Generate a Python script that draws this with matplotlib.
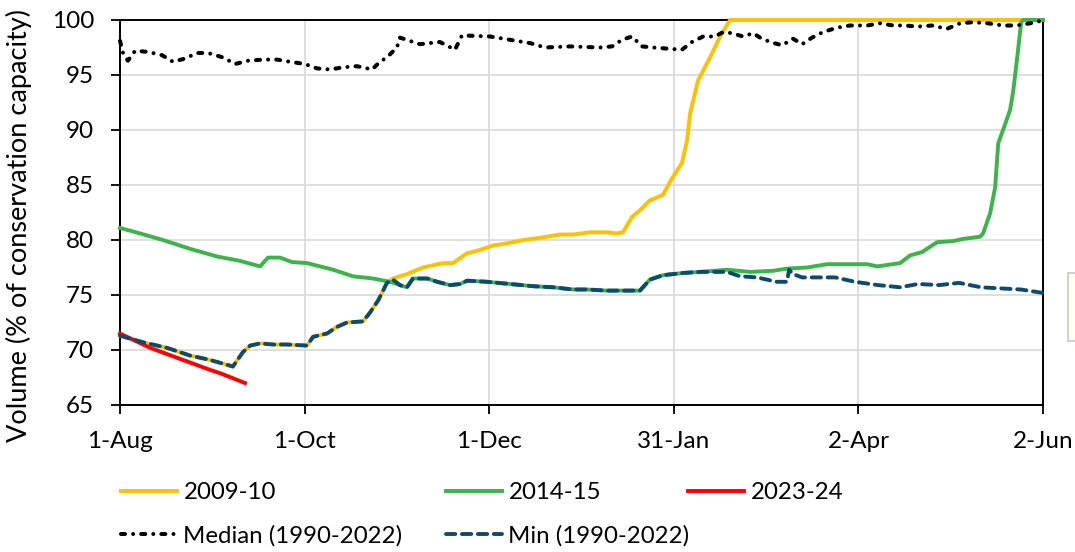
import matplotlib.pyplot as plt
from matplotlib.patches import Rectangle

# Data (x = days since 1-Aug)
tick_days = [0, 61, 122, 183, 244, 305]
tick_labels = ["1-Aug", "1-Oct", "1-Dec", "31-Jan", "2-Apr", "2-Jun"]

median_days = [0, 1, 2.6, 5, 9.3, 13.9, 17.5, 21.5, 25.4, 29.1, 34, 38, 42.3, 47.3, 51.9, 56.2, 61.1, 65.1,
               69.4, 73.7, 78.3, 83.3, 85.9, 88.2, 91.5, 92.5, 99.1, 105.7, 110.7, 113, 122.3, 128.9, 135.5,
               140.5, 148.7, 158.6, 162.6, 165.9, 169.2, 172.5, 176.1, 180.8, 185.7, 189, 192.7, 196.6, 199.3,
               202.2, 205.9, 209.2, 211.5, 214.8, 218.8, 222.4, 225.4, 228.7, 232.3, 236.9, 241.2, 246.9,
               251.2, 255.5, 259.4, 263.7, 268.3, 273.3, 277.6, 281.9, 286.8, 291.8, 296.4, 300.7, 304]
median_vals = [98.1, 97.0, 96.3, 97.2, 97.1, 96.8, 96.2, 96.5, 97.0, 97.0, 96.6, 96.0, 96.3, 96.4, 96.4, 96.2,
               96.0, 95.6, 95.5, 95.7, 95.8, 95.5, 96.2, 96.6, 97.5, 98.4, 97.8, 98.0, 97.3, 98.6, 98.5, 98.2,
               97.9, 97.5, 97.6, 97.5, 97.6, 98.2, 98.5, 97.6, 97.5, 97.4, 97.3, 98.0, 98.5, 98.5, 98.9, 98.8,
               98.5, 98.8, 98.4, 98.0, 97.7, 98.3, 97.8, 98.4, 98.9, 99.3, 99.5, 99.5, 99.7, 99.5, 99.5, 99.4,
               99.5, 99.2, 99.7, 99.8, 99.7, 99.5, 99.5, 99.7, 99.9]

y0910_days = [0, 7.6, 15.5, 23.1, 29.7, 37.3, 40.6, 43, 46.3, 50.6, 55.2, 61.8, 63.8, 68.4, 71.7, 75, 80.3,
              82.6, 85.3, 88.2, 90.2, 94.8, 100.1, 103.4, 106.7, 110, 114.7, 119, 123.3, 127.9, 133.2, 138.8,
              145.4, 149.7, 155.3, 160.9, 164.2, 166.2, 169.2, 171.8, 175.1, 179.4, 182.4, 185.7, 187.4,
              188.4, 191, 195, 198.3, 201.6, 305]
y0910_vals = [71.3, 70.7, 70.2, 69.5, 69.1, 68.5, 69.8, 70.4, 70.6, 70.5, 70.5, 70.4, 71.2, 71.5, 72.1, 72.5,
              72.6, 73.4, 74.5, 76.1, 76.5, 76.9, 77.5, 77.7, 77.9, 77.9, 78.8, 79.1, 79.5, 79.7, 80.0, 80.2,
              80.5, 80.5, 80.7, 80.7, 80.6, 80.7, 82.1, 82.7, 83.6, 84.1, 85.6, 87.0, 89.1, 91.5, 94.5, 96.6,
              98.5, 100, 100]

y1415_days = [0, 6.6, 14.2, 23.1, 32.1, 39.7, 46.3, 48.9, 52.9, 56.8, 61.8, 70.4, 77, 83.6, 89.2, 92.5, 94.8,
              96.8, 101.5, 104.8, 109.1, 112.4, 114.7, 121.3, 128.9, 136.5, 143.1, 149.7, 154.3, 160.9,
              171.8, 175.1, 179.4, 186, 191.7, 200.6, 208.2, 215.8, 220.4, 227, 233.6, 246.9, 250.2, 257.8,
              261.1, 265, 270, 275.3, 278.6, 284.2, 285.2, 287.5, 289.2, 290.2, 291.8, 294.1, 295.1, 296.4,
              297.8, 298.4, 305]
y1415_vals = [81.1, 80.6, 80.0, 79.2, 78.5, 78.1, 77.6, 78.4, 78.4, 78.0, 77.9, 77.3, 76.7, 76.5, 76.2, 75.9,
              75.7, 76.5, 76.5, 76.2, 75.9, 76.0, 76.3, 76.2, 76.0, 75.8, 75.7, 75.5, 75.5, 75.4, 75.4, 76.4,
              76.8, 77.0, 77.1, 77.3, 77.1, 77.2, 77.4, 77.5, 77.8, 77.8, 77.6, 77.9, 78.6, 78.9, 79.8, 79.9,
              80.1, 80.3, 80.6, 82.4, 84.8, 88.8, 90.0, 91.8, 93.4, 96.4, 99.8, 100, 100]

y2324_days = [0, 9.9, 20.8, 29.7, 33, 41.3]
y2324_vals = [71.5, 70.2, 69.1, 68.2, 67.9, 67.0]

min_days = [0, 7.6, 15.5, 23.1, 29.7, 37.3, 40.6, 43, 46.3, 50.6, 55.2, 61.8, 63.8, 68.4, 71.7, 75, 80.3,
            82.6, 85.3, 88.2, 90.2, 92.5, 94.8, 96.8, 101.5, 104.8, 109.1, 112.4, 114.7, 121.3, 128.9,
            136.5, 143.1, 149.7, 154.3, 160.9, 171.8, 175.1, 179.4, 186, 191.7, 200.6, 204.9, 210.5, 217,
            220.4, 221.1, 222.4, 225.4, 230.9, 236.3, 242.9, 250.5, 257.8, 263.7, 270.6, 277.3, 284.5,
            291.1, 297.7, 304.7]
min_vals = [71.3, 70.7, 70.2, 69.5, 69.1, 68.5, 69.8, 70.4, 70.6, 70.5, 70.5, 70.4, 71.2, 71.5, 72.1, 72.5,
            72.6, 73.4, 74.5, 76.1, 76.4, 75.9, 75.7, 76.5, 76.5, 76.2, 75.9, 76.0, 76.3, 76.2, 76.0, 75.8,
            75.7, 75.5, 75.5, 75.4, 75.4, 76.4, 76.8, 77.0, 77.1, 77.1, 76.7, 76.6, 76.2, 76.2, 77.3, 76.9,
            76.6, 76.6, 76.6, 76.2, 75.9, 75.7, 76.0, 75.9, 76.1, 75.7, 75.6, 75.5, 75.2]

plt.rcParams["font.family"] = ["Lato", "DejaVu Sans"]
W, H = 1075, 552

# Figure
fig = plt.figure(figsize=(W / 100, H / 100), dpi=100)
ax = fig.add_axes([120 / W, 1 - 405 / H, 923 / W, 385 / H])

lw = 2.8
l_0910, = ax.plot(y0910_days, y0910_vals, color="#FFC000", lw=lw, zorder=3, clip_on=False)
l_1415, = ax.plot(y1415_days, y1415_vals, color="#3CB44A", lw=lw, zorder=3, clip_on=False)
l_2324, = ax.plot(y2324_days, y2324_vals, color="#FF0000", lw=lw, zorder=3, clip_on=False)
l_med, = ax.plot(median_days, median_vals, color="black", lw=2.9, zorder=4, clip_on=False,
                 linestyle=(0, (1.0, 2.0, 0.01, 2.0)), dash_capstyle="round")
l_min, = ax.plot(min_days, min_vals, color="#0D4A70", lw=lw, zorder=4, clip_on=False,
                 linestyle=(0, (2.4, 1.7)), dash_capstyle="round")

# Axes
ax.set_xlim(0, 305)
ax.set_ylim(65, 100)
ax.set_yticks(range(65, 101, 5))
ax.set_xticks(tick_days)
ax.set_xticklabels(tick_labels)
ax.grid(True, color="#D9D9D9", lw=1.2, zorder=0)
ax.set_axisbelow(True)
for s in ax.spines.values():
    s.set_linewidth(1.4)
    s.set_zorder(2.5)
ax.tick_params(axis="both", direction="out", length=6.5, width=1.3, labelsize=17.5)
ax.tick_params(axis="y", pad=12)
ax.tick_params(axis="x", pad=12)
ax.set_ylabel("Volume (% of conservation capacity)", fontsize=19.5)
ax.yaxis.set_label_coords((32 - 120) / 923, (405 - 225) / 385)

# Legend, one per column
leg_kw = dict(frameon=False, fontsize=17.3, handlelength=2.35, handletextpad=0.25, labelspacing=0.93,
              loc="upper left", borderaxespad=0, borderpad=0)
top = 1 - 482 / H
fig.legend([l_0910, l_med], ["2009-10", "Median (1990-2022)"], bbox_to_anchor=(121 / W, top), **leg_kw)
fig.legend([l_1415, l_min], ["2014-15", "Min (1990-2022)"], bbox_to_anchor=(446 / W, top), **leg_kw)
fig.legend([l_2324], ["2023-24"], bbox_to_anchor=(688 / W, top), **leg_kw)

# Clipped box at right edge
fig.patches.append(Rectangle((1068 / W, 1 - 341 / H), 0.03, 68 / H, transform=fig.transFigure,
                             facecolor="#FFFFF2", edgecolor="#C8C8C8", lw=1.2))

fig.savefig("out.png", dpi=100)
